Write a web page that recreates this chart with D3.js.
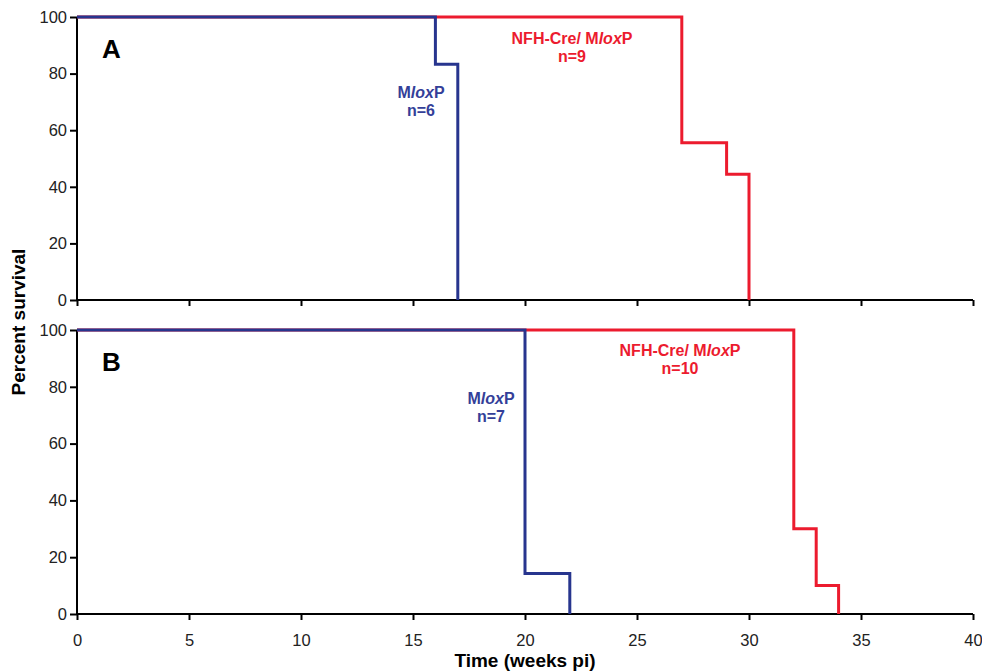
<!DOCTYPE html>
<html>
<head>
<meta charset="utf-8">
<script src="https://cdn.jsdelivr.net/npm/d3@7"></script>
<style>
  body { margin: 0; background: #fff; }
  text { font-family: "Liberation Sans", Arial, Helvetica, sans-serif; }
</style>
</head>
<body>
<svg id="chart" width="982" height="672"></svg>
<script>
// survival steps: [week, percent]
let panelNames = ["A", "B"];
let mloxA = [[0, 100], [16, 100], [16, 83.3], [17, 83.3], [17, 0]];
let nfhA = [[0, 100], [27, 100], [27, 55.6], [29, 55.6], [29, 44.4], [30, 44.4], [30, 0]];
let mloxB = [[0, 100], [20, 100], [20, 14.3], [22, 14.3], [22, 0]];
let nfhB = [[0, 100], [32, 100], [32, 30], [33, 30], [33, 10], [34, 10], [34, 0]];
let xTicks = [0, 5, 10, 15, 20, 25, 30, 35, 40];
let yTicks = [0, 20, 40, 60, 80, 100];
let nA = [6, 9];
let nB = [7, 10];

let blue = "#27358e";
let blueText = "#343f99";
let red = "#ec1b2e";

let svg = d3.select("#chart");
let x = d3.scaleLinear().domain([0, 40]).range([77, 973]);

let panels = [
  { name: panelNames[0], top: 17, bottom: 300, mlox: mloxA, nfh: nfhA, n: nA,
    nfhLabel: [572, 44], mloxLabel: [421, 98] },
  { name: panelNames[1], top: 330, bottom: 614, mlox: mloxB, nfh: nfhB, n: nB,
    nfhLabel: [680, 356], mloxLabel: [491, 404] }
];

let line = d3.line();

panels.forEach((p, i) => {
  let y = d3.scaleLinear().domain([0, 100]).range([p.bottom, p.top]);

  // axes
  let yAxis = svg.append("g").attr("transform", `translate(${x(0)},0)`)
    .call(d3.axisLeft(y).tickValues(yTicks).tickSize(7).tickPadding(3));
  let xAxis = svg.append("g").attr("transform", `translate(0,${p.bottom})`)
    .call(d3.axisBottom(x).tickValues(xTicks).tickSize(6).tickPadding(14)
      .tickFormat(i == 1 ? d3.format("d") : ""));
  [yAxis, xAxis].forEach(a => {
    a.select(".domain").attr("stroke", "#000").attr("stroke-width", 2);
    a.selectAll(".tick line").attr("stroke", "#000").attr("stroke-width", 2);
    a.selectAll(".tick text").attr("font-size", 16.5).attr("fill", "#222")
      .attr("font-family", "Liberation Sans, Arial, sans-serif");
  });
  yAxis.select(".domain").attr("d", `M0,${p.bottom}V${p.top}`);
  xAxis.select(".domain").attr("d", `M${x(0)},0H${x(40)}`);

  // curves: red first, blue over it
  svg.append("path")
    .attr("d", line(p.nfh.map(d => [x(d[0]), y(d[1])])))
    .attr("fill", "none").attr("stroke", red).attr("stroke-width", 3);
  svg.append("path")
    .attr("d", line(p.mlox.map(d => [x(d[0]), y(d[1])])))
    .attr("fill", "none").attr("stroke", blue).attr("stroke-width", 3);

  // panel letter
  svg.append("text").attr("x", 102).attr("y", p.top + 41)
    .attr("font-size", 26).attr("font-weight", "bold").text(p.name);

  // NFH-Cre label
  let t1 = svg.append("text").attr("x", p.nfhLabel[0]).attr("y", p.nfhLabel[1])
    .attr("text-anchor", "middle").attr("font-size", 16).attr("font-weight", "bold")
    .attr("fill", red);
  t1.append("tspan").text("NFH-Cre/ M");
  t1.append("tspan").attr("font-style", "italic").text("lox");
  t1.append("tspan").text("P");
  svg.append("text").attr("x", p.nfhLabel[0]).attr("y", p.nfhLabel[1] + 18)
    .attr("text-anchor", "middle").attr("font-size", 16).attr("font-weight", "bold")
    .attr("fill", red).text("n=" + p.n[1]);

  // MloxP label
  let t2 = svg.append("text").attr("x", p.mloxLabel[0]).attr("y", p.mloxLabel[1])
    .attr("text-anchor", "middle").attr("font-size", 16).attr("font-weight", "bold")
    .attr("fill", blueText);
  t2.append("tspan").text("M");
  t2.append("tspan").attr("font-style", "italic").text("lox");
  t2.append("tspan").text("P");
  svg.append("text").attr("x", p.mloxLabel[0]).attr("y", p.mloxLabel[1] + 18)
    .attr("text-anchor", "middle").attr("font-size", 16).attr("font-weight", "bold")
    .attr("fill", blueText).text("n=" + p.n[0]);
});

// axis titles
svg.append("text").attr("transform", "translate(25,322) rotate(-90)")
  .attr("text-anchor", "middle").attr("font-size", 19).attr("font-weight", "bold")
  .text("Percent survival");
svg.append("text").attr("x", 525).attr("y", 667)
  .attr("text-anchor", "middle").attr("font-size", 19).attr("font-weight", "bold")
  .text("Time (weeks pi)");
</script>
</body>
</html>
